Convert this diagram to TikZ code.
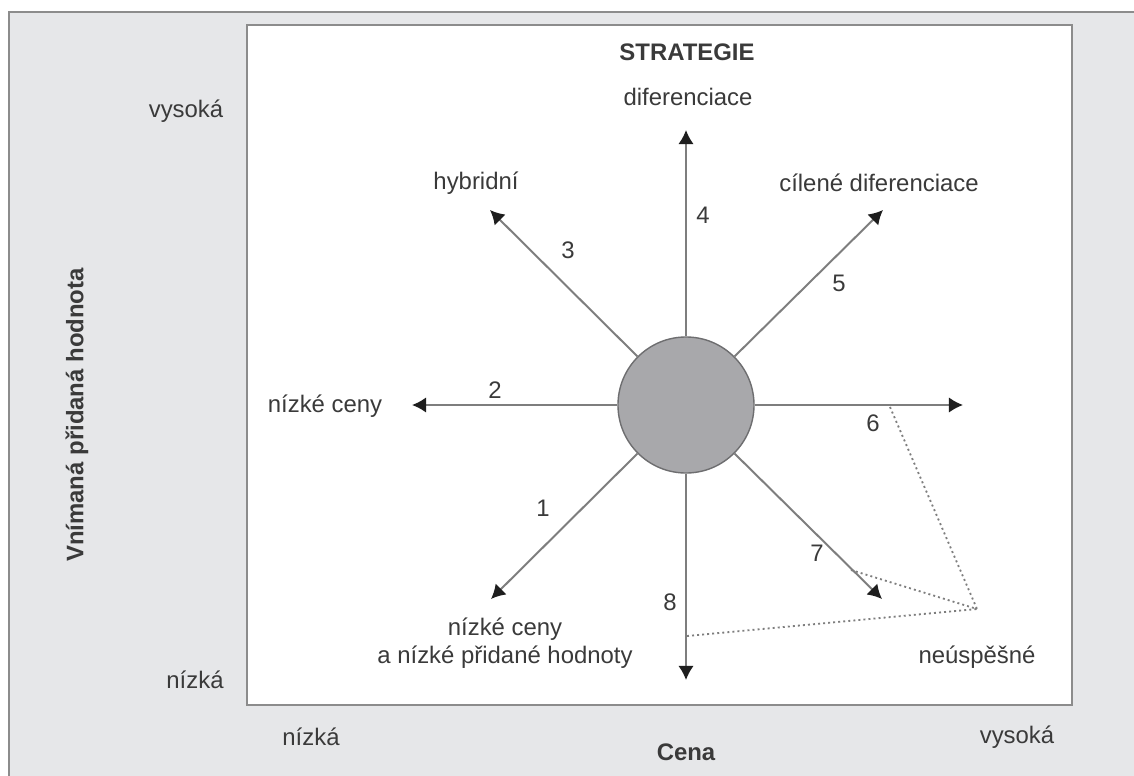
\documentclass[tikz,border=0pt]{standalone}
\usepackage{fontspec}
\setmainfont{Liberation Sans}
\usetikzlibrary{arrows.meta, positioning}
\definecolor{panelgray}{HTML}{E6E7E9}
\definecolor{framegray}{HTML}{8C8C8C}
\definecolor{linegray}{HTML}{7E7E7E}
\definecolor{headgray}{HTML}{1E1E1E}
\definecolor{txtgray}{HTML}{3A3A3A}
\definecolor{corefill}{HTML}{A8A8AB}
\definecolor{coreedge}{HTML}{6E6E70}
\tikzset{
  % Text labels
  lbl/.style={text=txtgray, font=\fontsize{17}{20}\selectfont, inner sep=1pt},
  % Bold headings
  head/.style={lbl, font=\fontsize{17}{20}\selectfont\bfseries},
  % Strategy arrows
  strat/.style={draw=linegray, line width=1.4pt,
    -{Latex[length=10pt, width=11pt, color=headgray]}},
  % Dotted links to failure
  fail/.style={draw=linegray, line width=1.3pt, dash pattern=on 1.4pt off 2.2pt},
  % Centre disc
  core/.style={draw=coreedge, fill=corefill, shape=circle, line width=1pt,
    minimum size=3.4cm, inner sep=0pt},
}
\begin{document}
\begin{tikzpicture}[x=0.025cm, y=-0.025cm]
  \useasboundingbox (0,0) rectangle (1134,776);
  \clip (0,0) rectangle (1134,776);
  \fill[white] (0,0) rectangle (1134,776);
  \draw[fill=panelgray, draw=framegray, line width=1.5pt] (9,12) rectangle (1150,800);
  \draw[fill=white, draw=framegray, line width=1.8pt] (247,25) rectangle (1072,705);

  \node[core] (core) at (686,405) {};

  % arrow tips
  \coordinate (tipN) at (686,130);
  \coordinate (tipS) at (686,680);
  \coordinate (tipE) at (963,405);
  \coordinate (tipW) at (412,405);
  \coordinate (tipNE) at (883,210);
  \coordinate (tipNW) at (490,210);
  \coordinate (tipSW) at (491,599);
  \coordinate (tipSE) at (882,599);

  \draw[strat] (core.north) -- (tipN);
  \draw[strat] (core.south) -- (tipS);
  \draw[strat] (core.east) -- (tipE);
  \draw[strat] (core.west) -- (tipW);
  \draw[strat] (core.45) -- (tipNE);
  \draw[strat] (core.135) -- (tipNW);
  \draw[strat] (core.225) -- (tipSW);
  \draw[strat] (core.315) -- (tipSE);

  % numbers
  \node[lbl] (n1) at (543,508) {1};
  \node[lbl] (n2) at (495,390) {2};
  \node[lbl] (n3) at (568,250) {3};
  \node[lbl] (n4) at (703,215) {4};
  \node[lbl] (n5) at (839,283) {5};
  \node[lbl] (n6) at (873,423) {6};
  \node[lbl] (n7) at (817,553) {7};
  \node[lbl] (n8) at (670,602) {8};

  % strategies
  \node[head] (title) at (687,52) {STRATEGIE};
  \node[lbl] (diff) at (688,97) {diferenciace};
  \node[lbl] (focus) at (879,183) {cílené diferenciace};
  \node[lbl] (hybrid) at (476,183) {hybridní};
  \node[lbl] (low) at (325,406) {nízké ceny};
  \node[lbl, align=center] (lowlow) at (505,643) {nízké ceny\\a nízké přidané hodnoty};
  \node[lbl] (fails) at (977,657) {neúspěšné};

  % failure links
  \coordinate (failpt) at (977,609);
  \coordinate (f6) at (890,407);
  \coordinate (f7) at (851,570);
  \coordinate (f8) at (687,636);
  \draw[fail] (f6) -- (failpt);
  \draw[fail] (f7) -- (failpt);
  \draw[fail] (f8) -- (failpt);

  % axes
  \node[lbl] (yhigh) at (186,111) {vysoká};
  \node[lbl] (ylow) at (195,680) {nízká};
  \node[lbl] (xlow) at (311,737) {nízká};
  \node[lbl] (xhigh) at (1017,737) {vysoká};
  \node[head] (xaxis) at (686,752) {Cena};
  \node[head, rotate=90] (yaxis) at (77,415) {Vnímaná přidaná hodnota};
\end{tikzpicture}
\end{document}
